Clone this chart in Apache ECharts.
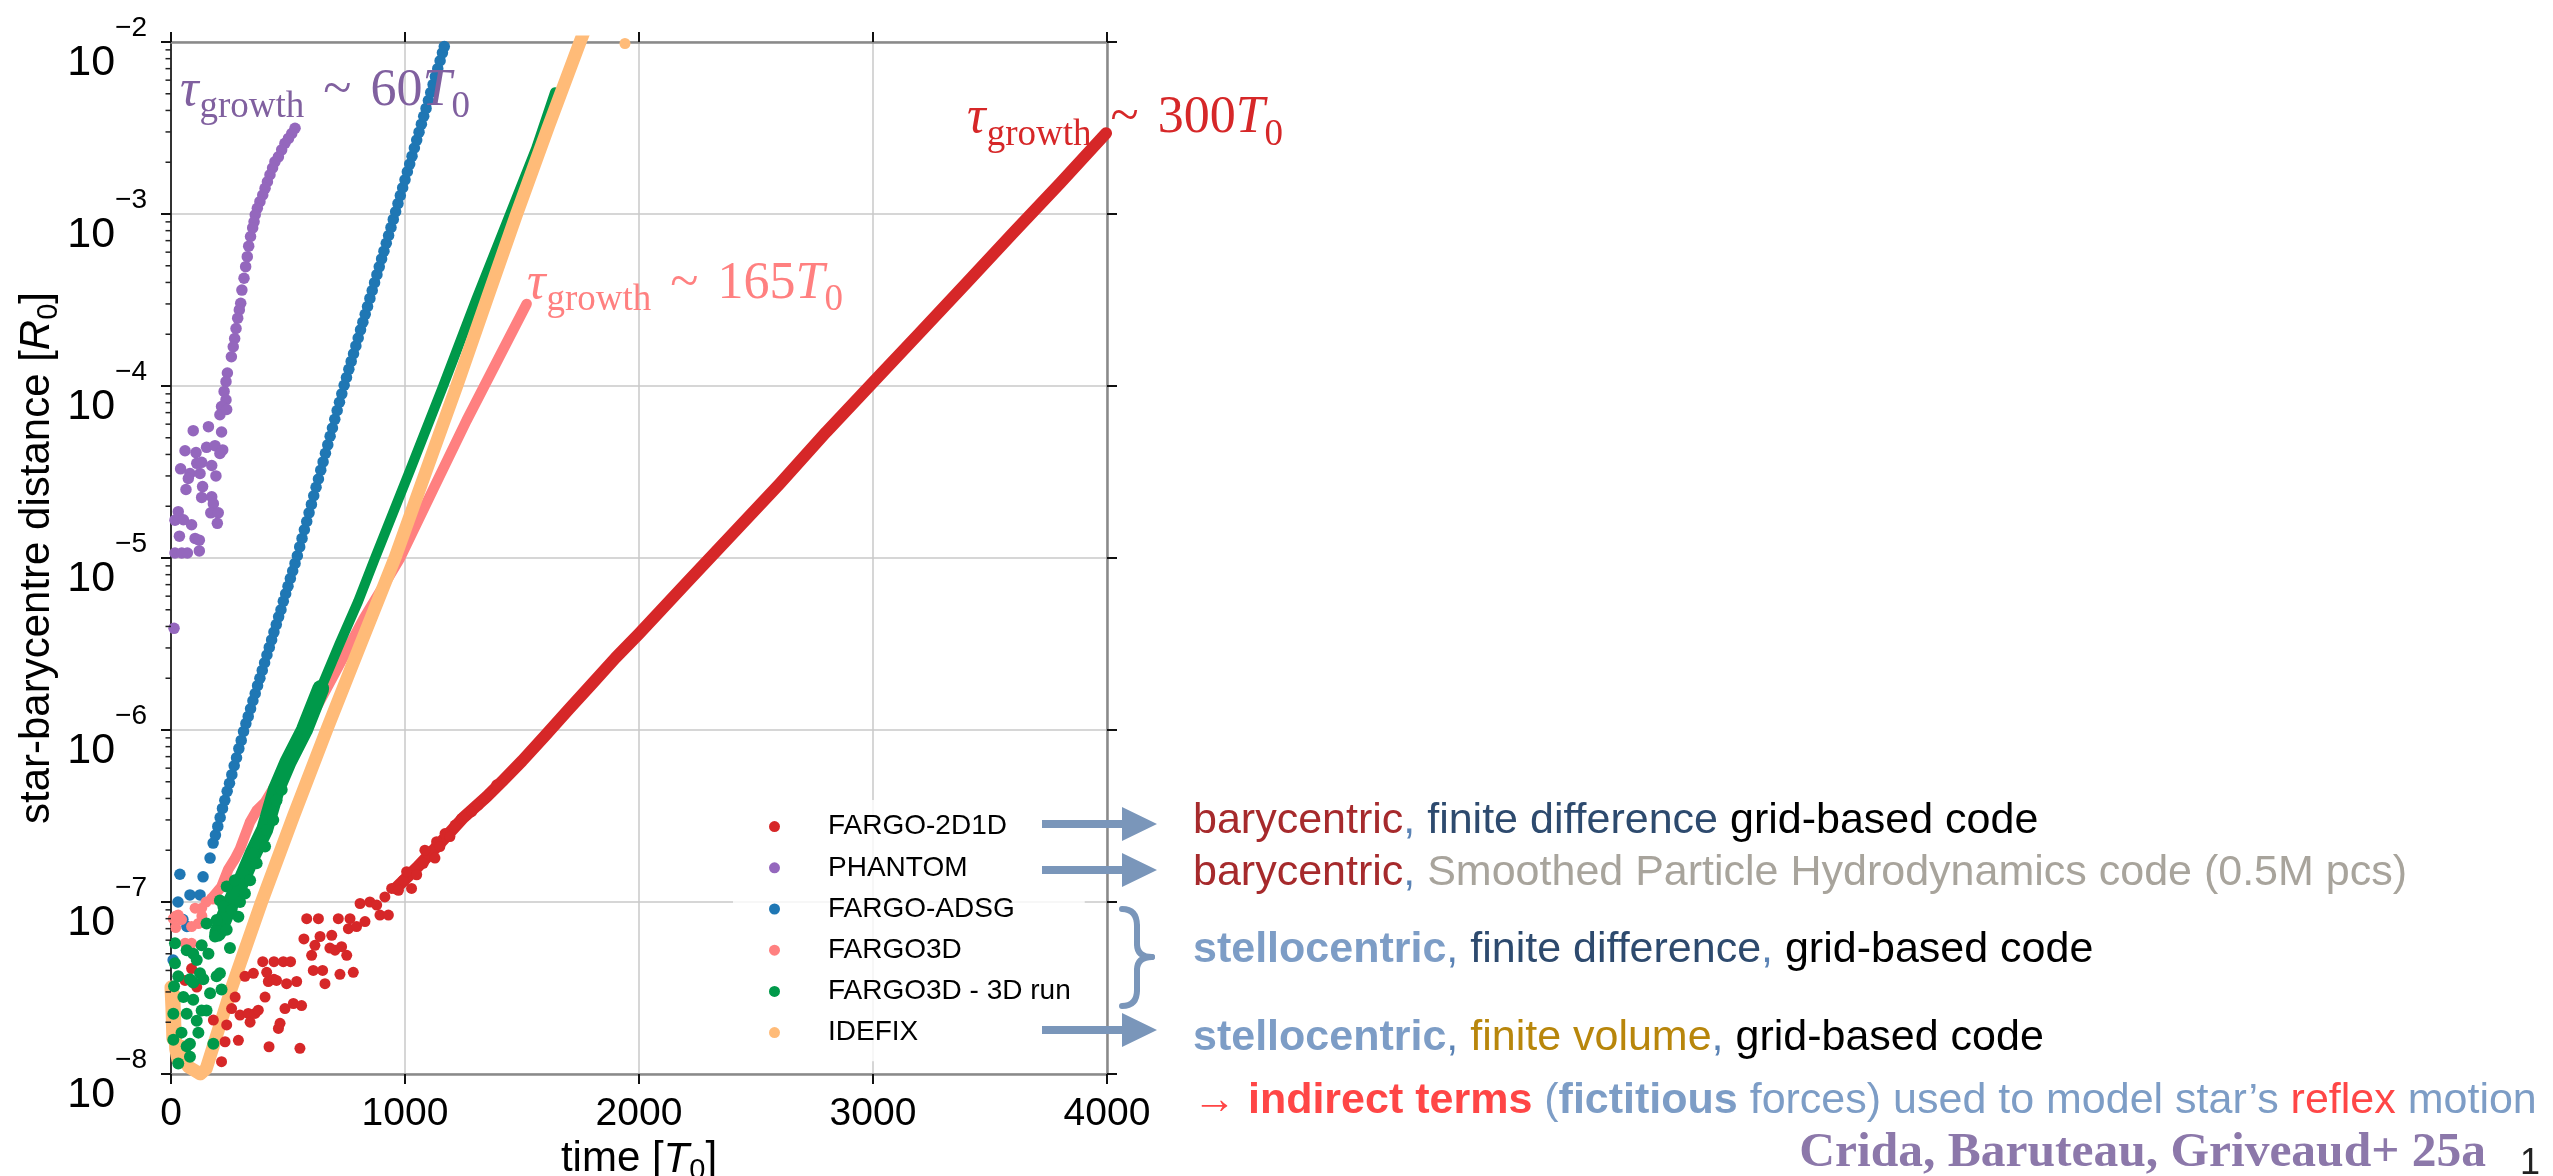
<!DOCTYPE html>
<html>
<head>
<meta charset="utf-8">
<script src="https://cdn.jsdelivr.net/npm/echarts@6/dist/echarts.min.js"></script>
<style>
  html, body { margin: 0; padding: 0; background: #ffffff; }
  #chart { width: 2553px; height: 1176px; }
</style>
</head>
<body>
<div id="chart"></div>
<script>
// ---- series names and colours ----
const seriesNames = ['FARGO-2D1D', 'PHANTOM', 'FARGO-ADSG', 'FARGO3D', 'FARGO3D - 3D run', 'IDEFIX'];
const seriesColors = ['#d62728', '#9467bd', '#1f77b4', '#ff8080', '#00994a', '#ffbb78'];

// ---- axis ticks ----
const xTicks = [0, 1000, 2000, 3000, 4000];
const yRange = [1e-8, 1e-2];
const minorMantissas = [2, 3, 4, 5, 6, 7, 8, 9];
const minorDecades = [1e-8, 1e-7, 1e-6, 1e-5, 1e-4, 1e-3];

// ---- FARGO-2D1D: noisy early phase (dots) and the clean growth track ----
const fargo2d1dDots = [
  [60, 3.5e-8], [88, 4.1e-8], [110, 3.2e-8], [181, 2.06e-8], [216, 1.18e-8], [231, 1.54e-8], [238, 1.93e-8],
  [259, 2.4e-8], [274, 2.8e-8], [288, 1.57e-8], [295, 2.2e-8], [316, 3.7e-8], [330, 2.25e-8], [338, 2.0e-8],
  [352, 3.85e-8], [359, 2.25e-8], [373, 2.35e-8], [392, 4.5e-8], [402, 2.8e-8], [409, 3.9e-8], [416, 3.45e-8],
  [419, 1.44e-8], [440, 4.5e-8], [440, 3.55e-8], [451, 3.5e-8], [459, 1.84e-8], [466, 1.97e-8], [480, 4.5e-8],
  [487, 2.4e-8], [494, 3.35e-8], [511, 4.5e-8], [523, 2.57e-8], [537, 3.45e-8], [551, 1.41e-8], [558, 2.5e-8],
  [568, 6.1e-8], [580, 8.0e-8], [601, 4.9e-8], [608, 4.0e-8], [615, 5.6e-8], [630, 8.0e-8], [637, 6.3e-8],
  [648, 4.0e-8], [658, 3.35e-8], [679, 5.4e-8], [687, 6.4e-8], [701, 5.25e-8], [715, 8.0e-8], [722, 3.8e-8],
  [729, 5.5e-8], [751, 4.9e-8], [758, 7.0e-8], [765, 8.0e-8], [779, 3.9e-8], [793, 7.2e-8], [808, 9.8e-8],
  [829, 7.7e-8], [850, 1.0e-7], [879, 9.6e-8], [893, 8.4e-8], [914, 1.07e-7], [929, 8.4e-8], [943, 1.2e-7],
  [972, 1.17e-7], [993, 1.34e-7], [1007, 1.5e-7], [1028, 1.2e-7], [1050, 1.44e-7], [1078, 1.68e-7],
  [1085, 2.0e-7], [1128, 1.8e-7], [1135, 2.24e-7], [1149, 2.1e-7], [1171, 2.5e-7], [1192, 2.4e-7],
  [1214, 2.8e-7], [1242, 3.06e-7], [1263, 3.2e-7], [1285, 3.35e-7], [1313, 3.66e-7], [1342, 4.0e-7],
  [1363, 4.28e-7], [1392, 4.8e-7]
];
const fargo2d1dTrack = [
  [960, 1.2e-7], [1050, 1.58e-7], [1150, 2.2e-7], [1250, 3.1e-7], [1350, 4.1e-7], [1420, 5.1e-7],
  [1500, 6.6e-7], [1600, 9.3e-7], [1700, 1.32e-6], [1800, 1.86e-6], [1900, 2.63e-6], [2000, 3.63e-6],
  [2200, 7.1e-6], [2400, 1.38e-5], [2600, 2.69e-5], [2800, 5.4e-5], [3000, 1.05e-4], [3200, 2.04e-4],
  [3400, 3.98e-4], [3600, 7.8e-4], [3800, 1.51e-3], [3996, 2.95e-3]
];

// ---- PHANTOM ----
const phantomDots = [
  [530, 3.15e-3], [516, 2.94e-3], [502, 2.75e-3], [487, 2.58e-3], [473, 2.36e-3], [459, 2.15e-3],
  [444, 2.01e-3], [434, 1.85e-3], [423, 1.69e-3], [412, 1.54e-3], [402, 1.41e-3], [392, 1.29e-3],
  [380, 1.18e-3], [369, 1.08e-3], [360, 9.9e-4], [355, 9.0e-4], [349, 8.3e-4], [340, 7.4e-4],
  [332, 6.5e-4], [326, 5.65e-4], [319, 4.94e-4], [312, 4.23e-4], [303, 3.61e-4], [298, 3.03e-4],
  [292, 2.77e-4], [285, 2.48e-4], [278, 2.16e-4], [272, 1.89e-4], [266, 1.69e-4], [258, 1.48e-4],
  [241, 1.19e-4], [235, 1.06e-4], [227, 9.3e-5], [235, 8.3e-5], [216, 7.6e-5], [209, 6.8e-5],
  [238, 7.3e-5], [95, 5.5e-5], [160, 5.8e-5], [216, 5.4e-5], [60, 4.2e-5], [107, 4.1e-5],
  [152, 4.4e-5], [188, 4.5e-5], [221, 4.25e-5], [209, 4.05e-5], [41, 3.3e-5], [81, 3.1e-5],
  [74, 2.9e-5], [110, 3.55e-5], [131, 3.6e-5], [174, 3.45e-5], [124, 3.1e-5], [192, 3.0e-5],
  [64, 2.5e-5], [135, 2.6e-5], [131, 2.25e-5], [174, 2.27e-5], [181, 2.07e-5], [170, 1.83e-5],
  [202, 1.83e-5], [31, 1.86e-5], [17, 1.66e-5], [53, 1.67e-5], [88, 1.56e-5], [198, 1.59e-5],
  [36, 1.34e-5], [103, 1.3e-5], [121, 1.27e-5], [121, 1.1e-5], [17, 1.07e-5], [46, 1.07e-5],
  [70, 1.07e-5], [13, 3.9e-6]
];

// ---- FARGO-ADSG ----
const adsgDots = [
  [9, 4.6e-8], [30, 1.0e-7], [38, 1.45e-7], [51, 7.9e-8], [68, 7.2e-8], [81, 1.1e-7], [124, 1.1e-7],
  [137, 1.4e-7], [167, 1.8e-7],
  [180, 2.2e-7], [190, 2.45e-7], [200, 2.75e-7], [210, 3.1e-7], [220, 3.5e-7], [230, 3.9e-7],
  [240, 4.4e-7], [250, 4.9e-7], [260, 5.5e-7], [270, 6.2e-7], [280, 6.9e-7], [290, 7.8e-7],
  [300, 8.7e-7], [310, 9.8e-7], [320, 1.09e-6], [330, 1.2e-6], [340, 1.33e-6], [350, 1.48e-6],
  [360, 1.63e-6], [370, 1.81e-6], [380, 2.0e-6], [390, 2.22e-6], [400, 2.46e-6], [410, 2.73e-6],
  [420, 3.02e-6], [430, 3.34e-6], [440, 3.71e-6], [450, 4.1e-6], [460, 4.55e-6], [470, 5.0e-6],
  [480, 5.6e-6], [490, 6.2e-6], [500, 6.85e-6], [510, 7.6e-6], [520, 8.4e-6], [530, 9.3e-6],
  [540, 1.03e-5], [550, 1.16e-5], [560, 1.3e-5], [570, 1.46e-5], [580, 1.63e-5], [590, 1.83e-5],
  [600, 2.05e-5], [610, 2.3e-5], [620, 2.58e-5], [630, 2.88e-5], [640, 3.24e-5], [650, 3.62e-5],
  [660, 4.06e-5], [670, 4.55e-5], [680, 5.1e-5], [690, 5.7e-5], [700, 6.4e-5], [710, 7.2e-5],
  [720, 8.05e-5], [730, 9.0e-5], [740, 1.01e-4], [750, 1.12e-4], [760, 1.25e-4], [770, 1.39e-4],
  [780, 1.54e-4], [790, 1.71e-4], [800, 1.9e-4], [810, 2.12e-4], [820, 2.35e-4], [830, 2.61e-4],
  [840, 2.9e-4], [850, 3.23e-4], [860, 3.59e-4], [870, 3.99e-4], [880, 4.44e-4], [890, 4.93e-4],
  [900, 5.48e-4], [910, 6.08e-4], [920, 6.76e-4], [930, 7.5e-4], [940, 8.35e-4], [950, 9.3e-4],
  [960, 1.03e-3], [970, 1.15e-3], [980, 1.28e-3], [990, 1.42e-3], [1000, 1.58e-3], [1010, 1.76e-3],
  [1020, 1.95e-3], [1030, 2.17e-3], [1040, 2.42e-3], [1050, 2.69e-3], [1060, 2.99e-3], [1070, 3.33e-3],
  [1080, 3.7e-3], [1090, 4.11e-3], [1100, 4.57e-3], [1110, 5.09e-3], [1120, 5.66e-3], [1130, 6.3e-3],
  [1140, 7.0e-3], [1150, 7.78e-3], [1160, 8.65e-3], [1168, 9.4e-3]
];

// ---- FARGO3D (2D) ----
const fargo3dDots = [
  [10, 8.0e-8], [20, 7.1e-8], [21, 8.3e-8], [31, 8.4e-8], [45, 7.9e-8], [60, 5.75e-8], [68, 5.7e-8],
  [88, 7.2e-8], [88, 5.75e-8], [103, 9.2e-8], [117, 7.5e-8], [131, 9.2e-8], [132, 8.3e-8],
  [150, 1.0e-7], [174, 1.05e-7], [179, 1.04e-7]
];
const fargo3dTrack = [
  [174, 1.05e-7], [216, 1.23e-7], [245, 1.55e-7], [273, 1.78e-7], [295, 2.04e-7], [337, 2.9e-7],
  [366, 3.4e-7], [402, 3.8e-7], [508, 6.6e-7], [594, 1.15e-6], [708, 2.24e-6], [822, 4.4e-6],
  [900, 6.6e-6], [979, 1.0e-5], [1120, 2.5e-5], [1263, 6.3e-5], [1400, 1.45e-4], [1520, 3.0e-4]
];

// ---- FARGO3D 3D run ----
const fargo3d3dDots = [
  [10, 2.24e-8], [10, 1.58e-8], [13, 3.24e-8], [17, 5.75e-8], [17, 4.4e-8], [31, 3.7e-8], [31, 1.15e-8],
  [45, 1.74e-8], [53, 2.8e-8], [67, 5.25e-8], [67, 2.24e-8], [67, 1.45e-8], [81, 3.55e-8], [81, 1.5e-8],
  [81, 1.26e-8], [95, 5.0e-8], [95, 3.4e-8], [95, 2.7e-8], [110, 4.6e-8], [110, 2.04e-8], [117, 1.74e-8],
  [124, 3.85e-8], [131, 5.6e-8], [131, 2.34e-8], [138, 3.55e-8], [152, 7.5e-8], [152, 2.34e-8],
  [160, 5.0e-8], [167, 2.95e-8], [181, 1.5e-8], [188, 6.3e-8], [195, 7.85e-8], [195, 3.7e-8],
  [209, 1.02e-7], [209, 3.85e-8], [216, 3.1e-8], [224, 9.4e-8], [238, 1.23e-7], [238, 6.9e-8],
  [252, 5.4e-8], [259, 9.0e-8], [273, 1.34e-7], [288, 8.2e-8], [295, 1.0e-7], [309, 1.47e-7],
  [316, 1.12e-7], [338, 1.34e-7], [352, 1.92e-7], [366, 1.68e-7], [402, 2.1e-7], [409, 2.62e-7],
  [437, 3.0e-7], [451, 3.9e-7], [473, 4.5e-7]
];
const fargo3d3dLowerTrack = [
  [200, 6.6e-8], [240, 8.9e-8], [300, 1.32e-7], [350, 1.9e-7], [400, 2.63e-7], [450, 4.5e-7],
  [500, 6.5e-7], [570, 1.0e-6], [640, 1.74e-6]
];
const fargo3d3dTrack = [
  [570, 1.0e-6], [640, 1.74e-6], [720, 3.16e-6], [800, 5.6e-6], [872, 1.0e-5], [1020, 3.2e-5],
  [1163, 1.0e-4], [1305, 3.2e-4], [1449, 1.0e-3], [1560, 2.4e-3], [1641, 5.1e-3]
];

// ---- IDEFIX ----
const idefixTrack = [
  [0, 3.2e-8], [4, 2.4e-8], [8, 1.6e-8], [12, 2.9e-8], [16, 2.0e-8], [20, 1.4e-8], [30, 1.2e-8],
  [45, 1.45e-8], [55, 1.2e-8], [75, 1.1e-8], [100, 1.05e-8], [125, 1.0e-8], [150, 1.07e-8],
  [260, 3.2e-8], [387, 1.0e-7], [525, 3.2e-7], [665, 1.0e-6], [812, 3.2e-6], [957, 1.0e-5],
  [1090, 3.2e-5], [1221, 1.0e-4], [1350, 3.2e-4], [1477, 1.0e-3], [1612, 3.2e-3], [1748, 1.0e-2],
  [1790, 1.4e-2]
];
const idefixDots = [[1940, 9.8e-3]];

// ---- growth-time annotations ----
const growthNotes = [
  { value: '60', color: '#80609f' },
  { value: '165', color: '#ff8080' },
  { value: '300', color: '#d62728' }
];
const growthNoteAnchors = [[38, 4.1e-3], [1521, 3.1e-4], [3402, 2.84e-3]];

// ---- side notes ----
const sideNotes = [
  [['barycentric', 'br'], [',', 'cm'], [' finite difference', 'fd'], [' grid-based code', 'bk']],
  [['barycentric', 'br'], [',', 'cm'], [' Smoothed Particle Hydrodynamics code (0.5M pcs)', 'gy']],
  [['stellocentric', 'st'], [',', 'cm'], [' finite difference', 'fd'], [',', 'cm'], [' grid-based code', 'bk']],
  [['stellocentric', 'st'], [',', 'cm'], [' finite volume', 'fv'], [',', 'cm'], [' grid-based code', 'bk']],
  [['\u2192 ', 'rr'], ['indirect terms', 'rd'], [' (', 'bl'], ['fictitious', 'blb'],
   [' forces) used to model star\u2019s ', 'bl'], ['reflex', 'rr'], [' motion', 'bl']]
];
const citation = 'Crida, Baruteau, Griveaud+ 25a';
const pageNumber = '1';

// ---------------------------------------------------------------
const SANS = '"Liberation Sans", Arial, Helvetica, sans-serif';
const SERIF = '"Liberation Serif", "Times New Roman", serif';
const ARROW_BLUE = '#7a96ba';

const chart = echarts.init(document.getElementById('chart'), null, { renderer: 'canvas', width: 2553, height: 1176 });

const minorTickValues = [];
minorDecades.forEach(d => minorMantissas.forEach(m => minorTickValues.push(m * d)));

function axisNameRich(size) {
  const sub = Math.round(size * 0.7);
  return {
    n: { fontSize: size, lineHeight: size, fontFamily: SANS, color: '#000', verticalAlign: 'top' },
    i: { fontSize: size, lineHeight: size, fontFamily: SANS, color: '#000', fontStyle: 'italic', verticalAlign: 'top' },
    s: { fontSize: sub, lineHeight: sub, fontFamily: SANS, color: '#000', padding: [Math.round(size * 0.44), 0, 0, 0], verticalAlign: 'top' }
  };
}

function dotSeries(name, color, data, size) {
  return {
    type: 'scatter', name, data, symbol: 'circle', symbolSize: size,
    itemStyle: { color, opacity: 1 }, silent: true, z: 3
  };
}
function trackSeries(name, color, data, width) {
  return {
    type: 'line', name, data, showSymbol: false, symbol: 'none', silent: true, z: 3,
    lineStyle: { color, width, cap: 'round', join: 'round' }, itemStyle: { color }
  };
}

const option = {
  animation: false,
  backgroundColor: '#ffffff',
  grid: { left: 171, top: 42, width: 936, height: 1032, containLabel: false, outerBoundsMode: 'none' },
  legend: {
    orient: 'vertical', left: 733, top: 800,
    padding: [6, 14, 8, 36],
    backgroundColor: 'rgba(255,255,255,0.8)',
    icon: 'circle', itemWidth: 11, itemHeight: 11, itemGap: 0,
    textStyle: { fontSize: 28, fontFamily: SANS, color: '#000', lineHeight: 41.2, padding: [0, 0, 0, 43] },
    data: seriesNames, selectedMode: false, z: 10
  },
  xAxis: [
    {
      type: 'value', min: xTicks[0], max: xTicks[xTicks.length - 1], interval: 1000, position: 'bottom',
      name: '{n|time [}{i|T}{s|0}{n|]}', nameLocation: 'middle', nameGap: 52,
      nameTextStyle: { rich: axisNameRich(42) },
      axisLine: { onZero: false, lineStyle: { color: '#8a8a8a', width: 2.5 } },
      axisTick: { length: 10, lineStyle: { color: '#111', width: 2 } },
      axisLabel: { fontSize: 39, fontFamily: SANS, color: '#000', margin: 21, formatter: v => String(v) },
      splitLine: { show: true, lineStyle: { color: '#c8c8c8', width: 1.5 } }
    },
    {
      type: 'value', min: xTicks[0], max: xTicks[xTicks.length - 1], interval: 1000, position: 'top',
      axisLine: { onZero: false, lineStyle: { color: '#8a8a8a', width: 2.5 } },
      axisTick: { length: 10, lineStyle: { color: '#111', width: 2 } },
      axisLabel: { show: false }, splitLine: { show: false }
    }
  ],
  yAxis: [
    {
      type: 'log', logBase: 10, min: yRange[0], max: yRange[1], splitNumber: 6, position: 'left',
      name: '{n|star-barycentre distance [}{i|R}{s|0}{n|]}', nameLocation: 'middle', nameRotate: 90, nameGap: 79,
      nameTextStyle: { rich: axisNameRich(42) },
      axisLine: { onZero: false, lineStyle: { color: '#333', width: 2 } },
      axisTick: { length: 10, lineStyle: { color: '#111', width: 2 } },
      axisLabel: {
        margin: 24,
        formatter: v => '{b|10}{s|\u2212' + Math.abs(Math.round(Math.log10(v))) + '}',
        rich: {
          b: { fontSize: 43, lineHeight: 56, fontFamily: SANS, color: '#000', padding: [28, 0, 0, 0], verticalAlign: 'top' },
          s: { fontSize: 28, lineHeight: 28, fontFamily: SANS, color: '#000', verticalAlign: 'top' }
        }
      },
      splitLine: { show: true, lineStyle: { color: '#c8c8c8', width: 1.5 } }
    },
    {
      type: 'log', logBase: 10, min: yRange[0], max: yRange[1], splitNumber: 6, position: 'right',
      axisLine: { onZero: false, lineStyle: { color: '#8a8a8a', width: 2.5 } },
      axisTick: { length: 10, lineStyle: { color: '#111', width: 2 } },
      axisLabel: { show: false }, splitLine: { show: false }
    }
  ],
  series: [
    {
      type: 'custom', name: 'minor ticks', silent: true, clip: false, z: 5,
      data: minorTickValues.map(v => [0, v]),
      renderItem: (params, api) => {
        const p = api.coord([0, api.value(1)]);
        return { type: 'line', shape: { x1: p[0] - 5.5, y1: p[1], x2: p[0], y2: p[1] }, style: { stroke: '#222', lineWidth: 1.5 } };
      }
    },
    dotSeries(seriesNames[0], seriesColors[0], fargo2d1dDots, 11),
    trackSeries(seriesNames[0], seriesColors[0], fargo2d1dTrack, 12),
    dotSeries(seriesNames[1], seriesColors[1], phantomDots, 11.5),
    dotSeries(seriesNames[2], seriesColors[2], adsgDots, 11.5),
    dotSeries(seriesNames[3], seriesColors[3], fargo3dDots, 11),
    trackSeries(seriesNames[3], seriesColors[3], fargo3dTrack, 10.5),
    trackSeries(seriesNames[4], seriesColors[4], fargo3d3dLowerTrack, 17),
    trackSeries(seriesNames[4], seriesColors[4], fargo3d3dTrack, 10),
    dotSeries(seriesNames[4], seriesColors[4], fargo3d3dDots, 12),
    trackSeries(seriesNames[5], seriesColors[5], idefixTrack, 13),
    dotSeries(seriesNames[5], seriesColors[5], idefixDots, 11)
  ]
};
chart.setOption(option);

// ---- decorations placed after layout ----
const graphics = [];

// growth-time labels: tau_growth ~ N T_0
growthNotes.forEach((note, k) => {
  const p = chart.convertToPixel({ gridIndex: 0 }, growthNoteAnchors[k]);
  const c = note.color;
  const base = { fontFamily: SERIF, fill: c, color: c, verticalAlign: 'top' };
  graphics.push({
    type: 'text', x: p[0], y: p[1] - 43.5, z: 20, silent: true,
    style: {
      text: '{t|\u03c4}{g|growth}{m|~}{n|' + note.value + '}{i|T}{z|0}',
      textAlign: 'left', textVerticalAlign: 'top',
      rich: {
        t: Object.assign({ fontStyle: 'italic', fontSize: 52, lineHeight: 52 }, base),
        g: Object.assign({ fontSize: 37, lineHeight: 37, padding: [24, 0, 0, 1] }, base),
        m: Object.assign({ fontSize: 52, lineHeight: 52, padding: [0, 19, 0, 19] }, base),
        n: Object.assign({ fontSize: 52, lineHeight: 52 }, base),
        i: Object.assign({ fontStyle: 'italic', fontSize: 52, lineHeight: 52 }, base),
        z: Object.assign({ fontSize: 37, lineHeight: 37, padding: [24, 0, 0, 0] }, base)
      }
    }
  });
});

// arrows from the legend entries to the side notes
function arrow(yc) {
  return {
    type: 'polygon', z: 20, silent: true,
    shape: { points: [[1042, yc - 4], [1122, yc - 4], [1122, yc - 17], [1157, yc], [1122, yc + 17], [1122, yc + 4], [1042, yc + 4]] },
    style: { fill: ARROW_BLUE }
  };
}
graphics.push(arrow(824), arrow(870), arrow(1030));

// curly brace grouping the two FARGO3D runs
const braceStyle = { stroke: ARROW_BLUE, lineWidth: 6, lineCap: 'round', fill: null };
const braceCurves = [
  { x1: 1122, y1: 909, x2: 1137, y2: 926, cpx1: 1137, cpy1: 909 },
  { x1: 1137, y1: 926, x2: 1137, y2: 944, cpx1: 1137, cpy1: 935 },
  { x1: 1137, y1: 944, x2: 1152, y2: 957, cpx1: 1137, cpy1: 957 },
  { x1: 1152, y1: 957, x2: 1137, y2: 970, cpx1: 1137, cpy1: 957 },
  { x1: 1137, y1: 970, x2: 1137, y2: 990, cpx1: 1137, cpy1: 980 },
  { x1: 1137, y1: 990, x2: 1122, y2: 1006, cpx1: 1137, cpy1: 1006 }
];
braceCurves.forEach(s => graphics.push({ type: 'bezierCurve', z: 20, silent: true, shape: s, style: braceStyle }));

// side notes
const noteRich = {
  br: { color: '#a62a2c' }, cm: { color: '#5b83b5' }, fd: { color: '#2d4a6e' }, bk: { color: '#000000' },
  gy: { color: '#a8a49c' }, st: { color: '#7d9dc6', fontWeight: 'bold' }, fv: { color: '#b8860b' },
  rd: { color: '#ff4646', fontWeight: 'bold' }, rr: { color: '#ff4646' },
  bl: { color: '#7d9dc6' }, blb: { color: '#7d9dc6', fontWeight: 'bold' }
};
Object.keys(noteRich).forEach(k => { noteRich[k].fontSize = 43; noteRich[k].fontFamily = SANS; noteRich[k].fill = noteRich[k].color; });
const noteRows = [821, 873, 950, 1038, 1101];
sideNotes.forEach((parts, k) => {
  graphics.push({
    type: 'text', x: 1193, y: noteRows[k], z: 20, silent: true,
    style: {
      text: parts.map(p => '{' + p[1] + '|' + p[0] + '}').join(''),
      textAlign: 'left', textVerticalAlign: 'middle', rich: noteRich
    }
  });
});
graphics.push({
  type: 'text', x: 2486, y: 1153, z: 20, silent: true,
  style: {
    text: citation, textAlign: 'right', textVerticalAlign: 'middle',
    font: 'bold 49.5px "Liberation Serif", "Times New Roman", serif', fill: '#8c78aa'
  }
});
graphics.push({
  type: 'text', x: 2520, y: 1146, z: 20, silent: true,
  style: { text: pageNumber, textAlign: 'left', textVerticalAlign: 'top', font: '36px ' + SANS, fill: '#222' }
});

chart.setOption({ graphic: graphics });
</script>
</body>
</html>
